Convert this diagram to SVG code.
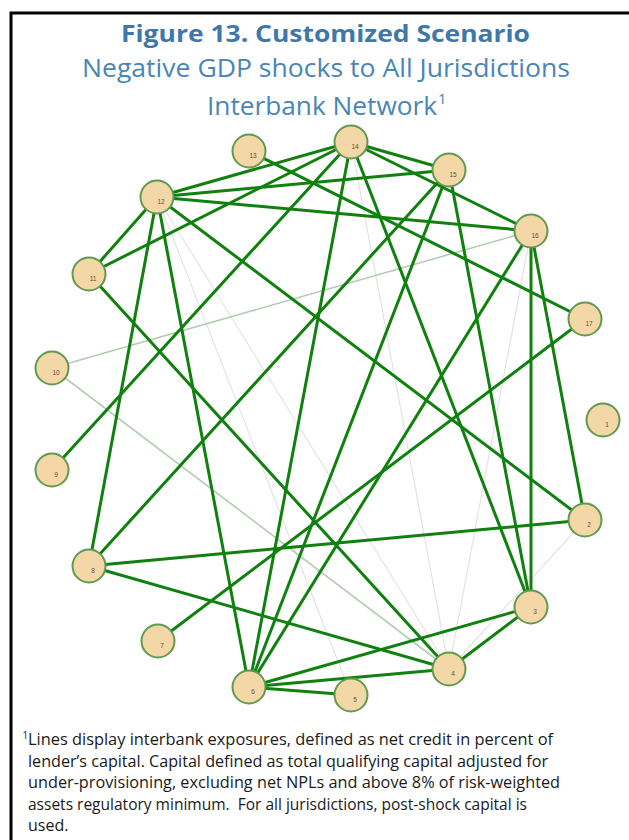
<svg xmlns="http://www.w3.org/2000/svg" width="629" height="840" viewBox="0 0 629 840">
<style>
.frame{fill:none;stroke:#000;stroke-width:3}
.title{font-family:"Open Sans","Noto Sans","DejaVu Sans",sans-serif;font-weight:bold;font-size:24px;fill:#3e78aa}
.sub{font-family:"Open Sans","Noto Sans","DejaVu Sans",sans-serif;font-size:25px;fill:#4a85b7}
.note{font-family:"Open Sans","Noto Sans","DejaVu Sans",sans-serif;font-size:16px;fill:#1a1a1a}
.e{stroke:#10800f;stroke-width:3;fill:none;stroke-linecap:round}
.lg{stroke:#b2cdb2;stroke-width:1.6;fill:none}
.gr{stroke:#e2e4e2;stroke-width:1.2;fill:none}
.n circle{fill:#f4d7a6;stroke:#5f9a4f;stroke-width:2}
.n text{font-family:"Liberation Sans",Arial,sans-serif;font-size:6.5px;fill:#6b4a3a;text-anchor:middle}
</style>
<rect x="0" y="0" width="629" height="840" fill="#fff"/>
<rect class="frame" x="11" y="13" width="650" height="850"/>
<text class="title" x="121" y="42" textLength="409" lengthAdjust="spacingAndGlyphs">Figure 13. Customized Scenario</text>
<text class="sub" x="82" y="77" textLength="488" lengthAdjust="spacingAndGlyphs">Negative GDP shocks to All Jurisdictions</text>
<text class="sub" x="207" y="115" textLength="230" lengthAdjust="spacingAndGlyphs">Interbank Network</text>
<text class="sub" x="438" y="104" style="font-size:15px">1</text>
<g id="connectors">
<line class="gr" x1="157" y1="197" x2="449" y2="669"/>
<line class="gr" x1="157" y1="197" x2="351" y2="695"/>
<line class="gr" x1="351" y1="142" x2="449" y2="669"/>
<line class="gr" x1="531" y1="231" x2="449" y2="669"/>
<line class="gr" x1="585" y1="520" x2="449" y2="669"/>
<line class="lg" x1="52" y1="368" x2="531" y2="231"/>
<line class="lg" x1="52" y1="368" x2="449" y2="669"/>
<line class="e" x1="157" y1="197" x2="351" y2="142"/>
<line class="e" x1="157" y1="197" x2="449" y2="170"/>
<line class="e" x1="157" y1="197" x2="531" y2="231"/>
<line class="e" x1="157" y1="197" x2="89" y2="274"/>
<line class="e" x1="157" y1="197" x2="89" y2="566"/>
<line class="e" x1="157" y1="197" x2="249" y2="687"/>
<line class="e" x1="157" y1="197" x2="585" y2="520"/>
<line class="e" x1="89" y1="274" x2="351" y2="142"/>
<line class="e" x1="89" y1="274" x2="449" y2="669"/>
<line class="e" x1="249" y1="151" x2="585" y2="319"/>
<line class="e" x1="351" y1="142" x2="449" y2="170"/>
<line class="e" x1="351" y1="142" x2="531" y2="231"/>
<line class="e" x1="351" y1="142" x2="52" y2="470"/>
<line class="e" x1="351" y1="142" x2="249" y2="687"/>
<line class="e" x1="351" y1="142" x2="531" y2="607"/>
<line class="e" x1="449" y1="170" x2="89" y2="566"/>
<line class="e" x1="449" y1="170" x2="249" y2="687"/>
<line class="e" x1="449" y1="170" x2="531" y2="607"/>
<line class="e" x1="531" y1="231" x2="249" y2="687"/>
<line class="e" x1="531" y1="231" x2="531" y2="607"/>
<line class="e" x1="531" y1="231" x2="585" y2="520"/>
<line class="e" x1="585" y1="319" x2="158" y2="641"/>
<line class="e" x1="89" y1="566" x2="585" y2="520"/>
<line class="e" x1="89" y1="566" x2="449" y2="669"/>
<line class="e" x1="249" y1="687" x2="531" y2="607"/>
<line class="e" x1="249" y1="687" x2="449" y2="669"/>
<line class="e" x1="249" y1="687" x2="351" y2="695"/>
<line class="e" x1="531" y1="607" x2="449" y2="669"/>
</g>
<g id="node1" class="n"><circle cx="603" cy="420" r="16.5"/><text x="607" y="427">1</text></g>
<g id="node2" class="n"><circle cx="585" cy="520" r="16.5"/><text x="589" y="527">2</text></g>
<g id="node3" class="n"><circle cx="531" cy="607" r="16.5"/><text x="535" y="614">3</text></g>
<g id="node4" class="n"><circle cx="449" cy="669" r="16.5"/><text x="453" y="676">4</text></g>
<g id="node5" class="n"><circle cx="351" cy="695" r="16.5"/><text x="355" y="702">5</text></g>
<g id="node6" class="n"><circle cx="249" cy="687" r="16.5"/><text x="253" y="694">6</text></g>
<g id="node7" class="n"><circle cx="158" cy="641" r="16.5"/><text x="162" y="648">7</text></g>
<g id="node8" class="n"><circle cx="89" cy="566" r="16.5"/><text x="93" y="573">8</text></g>
<g id="node9" class="n"><circle cx="52" cy="470" r="16.5"/><text x="56" y="477">9</text></g>
<g id="node10" class="n"><circle cx="52" cy="368" r="16.5"/><text x="56" y="375">10</text></g>
<g id="node11" class="n"><circle cx="89" cy="274" r="16.5"/><text x="93" y="281">11</text></g>
<g id="node12" class="n"><circle cx="157" cy="197" r="16.5"/><text x="161" y="204">12</text></g>
<g id="node13" class="n"><circle cx="249" cy="151" r="16.5"/><text x="253" y="158">13</text></g>
<g id="node14" class="n"><circle cx="351" cy="142" r="16.5"/><text x="355" y="149">14</text></g>
<g id="node15" class="n"><circle cx="449" cy="170" r="16.5"/><text x="453" y="177">15</text></g>
<g id="node16" class="n"><circle cx="531" cy="231" r="16.5"/><text x="535" y="238">16</text></g>
<g id="node17" class="n"><circle cx="585" cy="319" r="16.5"/><text x="589" y="326">17</text></g>
<text class="note" x="22.5" y="739" style="font-size:10px">1</text>
<text class="note" x="28" y="745" textLength="525" lengthAdjust="spacingAndGlyphs">Lines display interbank exposures, defined as net credit in percent of</text>
<text class="note" x="28" y="766.5" textLength="520" lengthAdjust="spacingAndGlyphs">lender’s capital. Capital defined as total qualifying capital adjusted for</text>
<text class="note" x="28" y="788" textLength="532" lengthAdjust="spacingAndGlyphs">under-provisioning, excluding net NPLs and above 8% of risk-weighted</text>
<text class="note" x="28" y="809.5" textLength="499" lengthAdjust="spacingAndGlyphs">assets regulatory minimum.&#160; For all jurisdictions, post-shock capital is</text>
<text class="note" x="28" y="831">used.</text>
</svg>
